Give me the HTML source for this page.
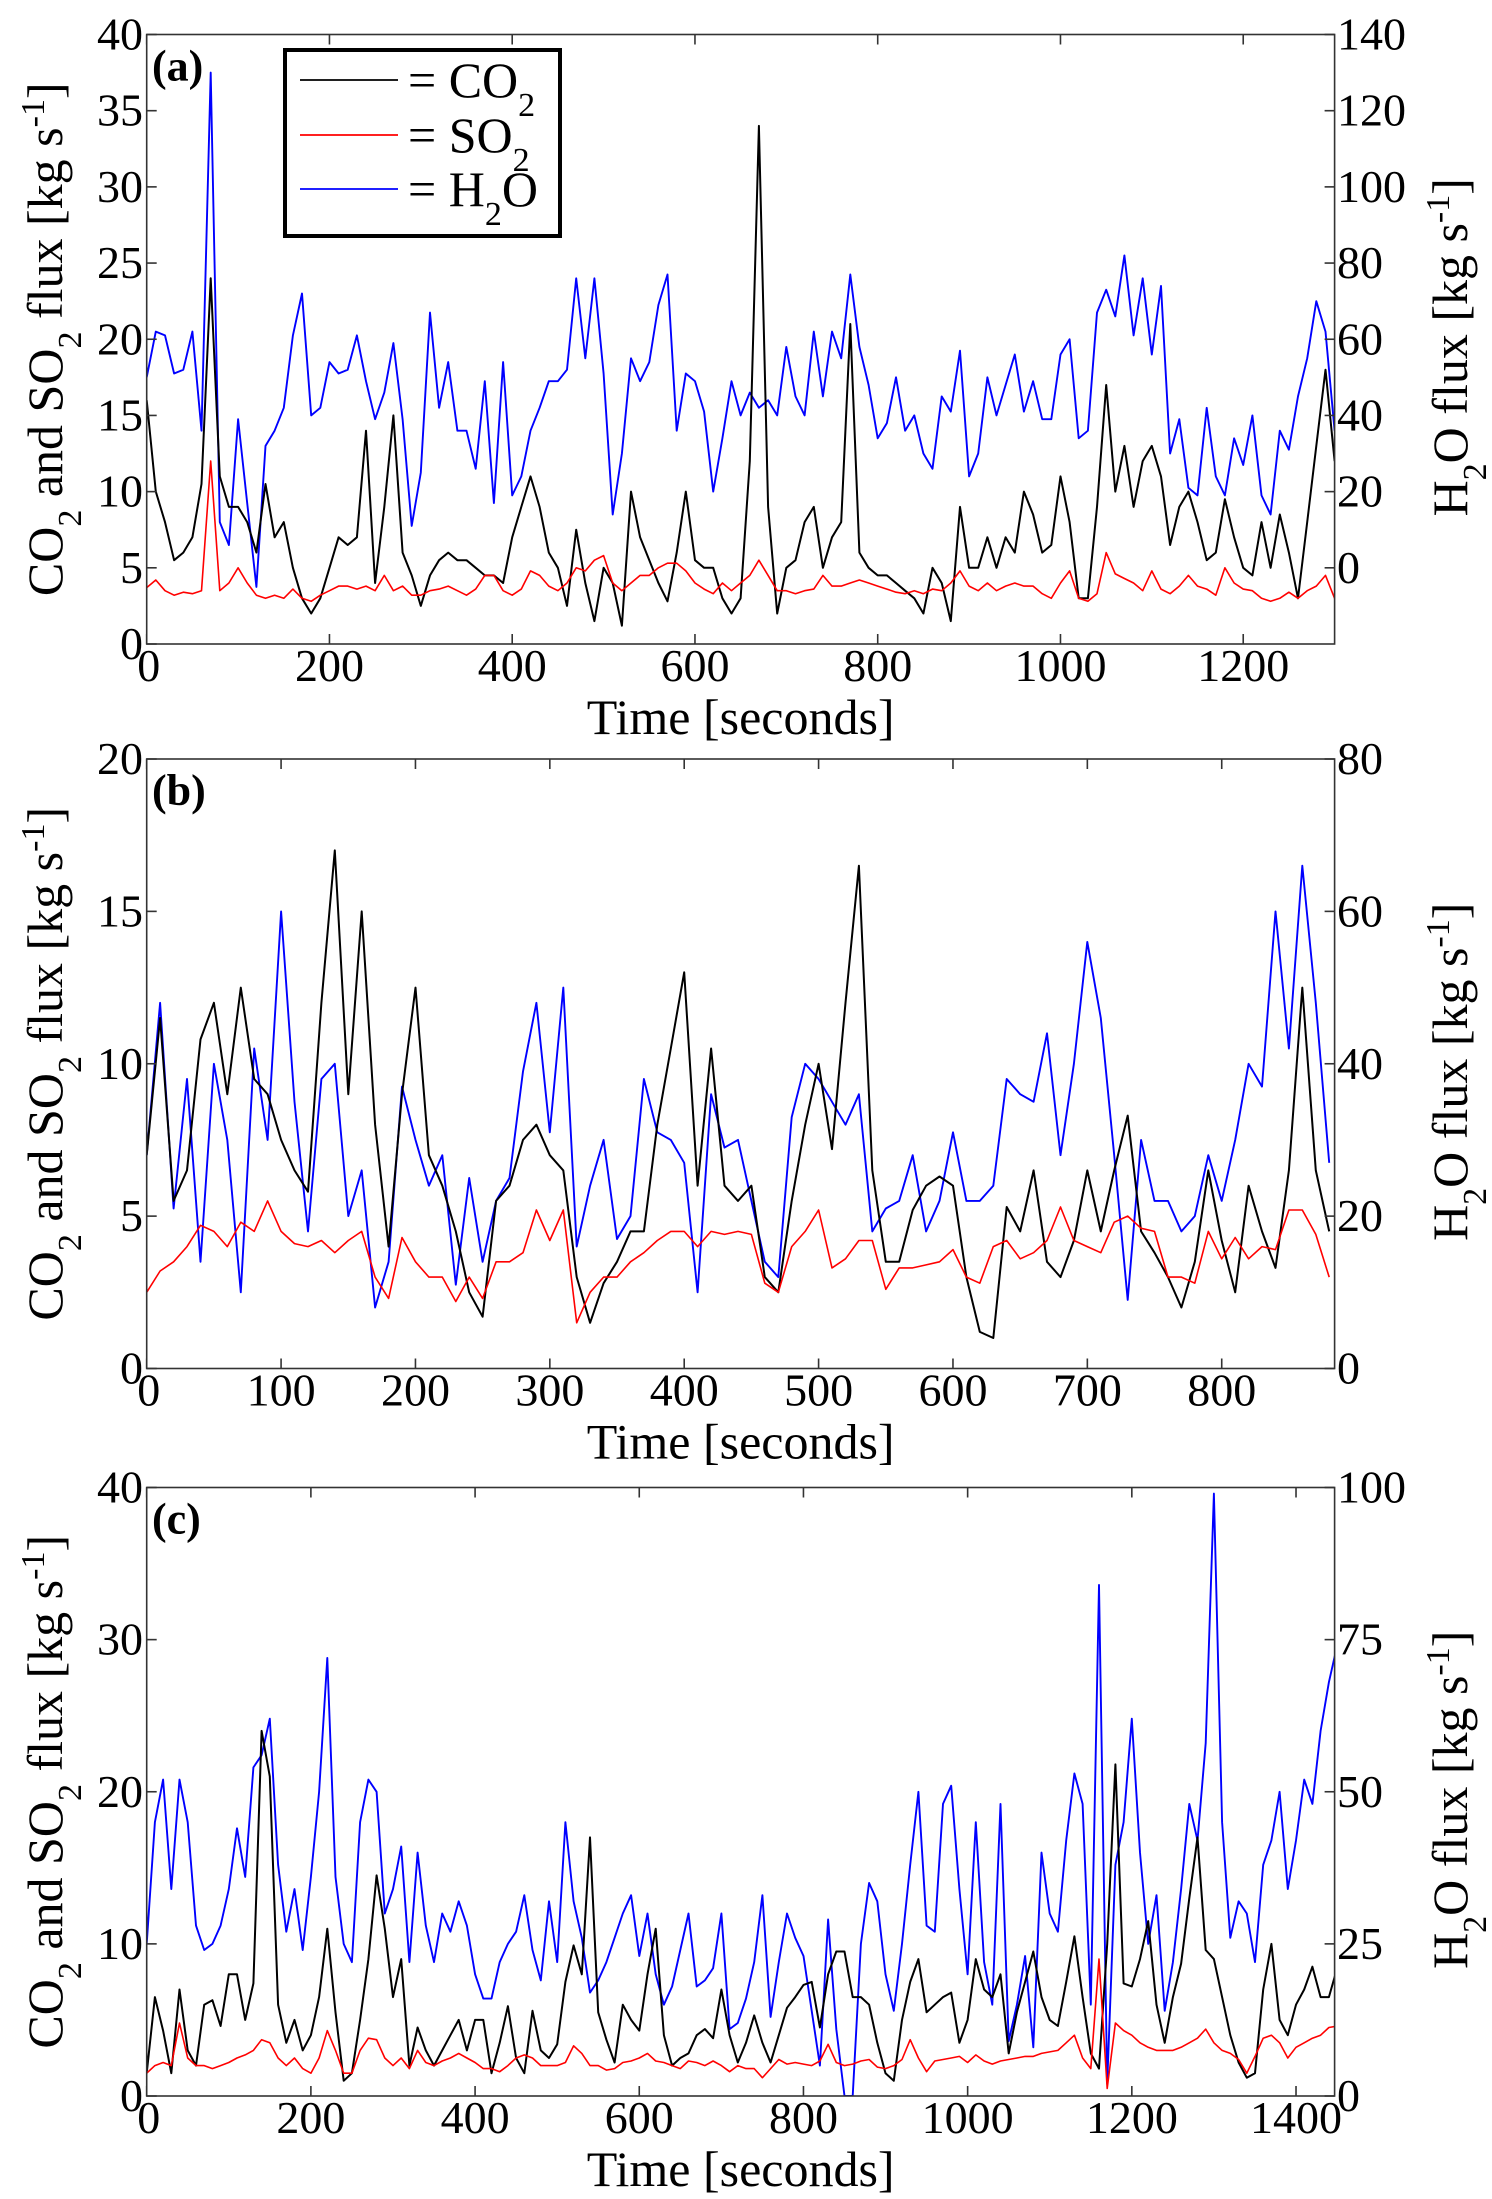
<!DOCTYPE html>
<html><head><meta charset="utf-8"><title>CO2, SO2 and H2O flux time series</title>
<style>
html,body{margin:0;padding:0;background:#fff;}
svg{display:block;}
svg text{font-family:"Liberation Serif","Noto Serif CJK SC","DejaVu Serif",serif;}
</style></head>
<body>
<svg id="chart" width="1492" height="2199" viewBox="0 0 1492 2199" xmlns="http://www.w3.org/2000/svg">
</svg>
<script>
// ---- Panel (a) data (10 s steps) ----
const panelAStep = 10;
const panelACO2 = [16,10,8,5.5,6,7,10.5,24,11,9,
9,8,6,10.5,7,8,5,3,2,3,
5,7,6.5,7,14,4,9,15,6,4.5,
2.5,4.5,5.5,6,5.5,5.5,5,4.5,4.5,4,
7,9,11,9,6,5,2.5,7.5,4,1.5,
5,4,1.2,10,7,5.5,4,2.8,6,10,
5.5,5,5,3,2,3,12,34,9,2,
5,5.5,8,9,5,7,8,21,6,5,
4.5,4.5,4,3.5,3,2,5,4,1.5,9,
5,5,7,5,7,6,10,8.5,6,6.5,
11,8,3,3,9,17,10,13,9,12,
13,11,6.5,9,10,8,5.5,6,9.5,7,
5,4.5,8,5,8.5,6,3,8,13,18,12];
const panelASO2 = [3.7,4.2,3.5,3.2,3.4,3.3,3.5,12,3.5,4,
5,4,3.2,3,3.2,3,3.6,3,2.8,3.2,
3.5,3.8,3.8,3.6,3.8,3.5,4.5,3.5,3.8,3.2,
3.2,3.5,3.6,3.8,3.5,3.2,3.6,4.5,4.5,3.5,
3.2,3.6,4.8,4.5,3.8,3.5,4,5,4.8,5.5,
5.8,4,3.5,4,4.5,4.5,5,5.3,5.3,4.8,
4,3.6,3.3,4,3.5,4,4.5,5.5,4.5,3.5,
3.5,3.3,3.5,3.6,4.5,3.8,3.8,4,4.2,4,
3.8,3.6,3.4,3.3,3.5,3.3,3.6,3.5,4,4.8,
3.8,3.5,4,3.5,3.8,4,3.8,3.8,3.3,3,
4,4.8,3,2.8,3.3,6,4.6,4.3,4,3.5,
4.8,3.6,3.3,3.8,4.5,3.8,3.6,3.2,5,4,
3.6,3.5,3,2.8,3,3.4,3,3.5,3.8,4.5,3];
const panelAH2O = [50,62,61,51,52,62,36,130,12,6,
39,17,-5,32,36,42,61,72,40,42,
54,51,52,61,49,39,46,59,39,11,
25,67,42,54,36,36,26,49,17,54,
19,24,36,42,49,49,52,76,55,76,
51,14,30,55,49,54,69,77,36,51,
49,41,20,34,49,40,46,42,44,40,
58,45,40,62,45,62,55,77,58,48,
34,38,50,36,40,30,26,45,41,57,
24,30,50,40,48,56,41,49,39,39,
56,60,34,36,67,73,66,82,61,76,
56,74,30,39,21,19,42,24,19,34,
27,40,19,14,36,31,45,55,70,62,36];
const panelAXTicks = [0,200,400,600,800,1000,1200];
const panelALeftTicks = [0,5,10,15,20,25,30,35,40];
const panelARightTicks = [0,20,40,60,80,100,120,140];

// ---- Panel (b) data ----
const panelBStep = 10;
const panelBCO2 = [7,11.5,5.5,6.5,10.8,12,9,12.5,9.5,9,
7.5,6.5,5.8,12,17,9,15,8,4,9,
12.5,7,6,4.5,2.5,1.7,5.5,6,7.5,8,
7,6.5,3,1.5,2.8,3.5,4.5,4.5,8,10.5,
13,6,10.5,6,5.5,6,3,2.5,5.5,8,
10,7.2,12,16.5,6.5,3.5,3.5,5.2,6,6.3,
6,3,1.2,1,5.3,4.5,6.5,3.5,3,4.2,
6.5,4.5,6.5,8.3,4.5,3.8,3,2,3.5,6.5,
4.2,2.5,6,4.5,3.3,6.5,12.5,6.5,4.5];
const panelBSO2 = [2.5,3.2,3.5,4,4.7,4.5,4,4.8,4.5,5.5,
4.5,4.1,4,4.2,3.8,4.2,4.5,3,2.3,4.3,
3.5,3,3,2.2,3,2.3,3.5,3.5,3.8,5.2,
4.2,5.2,1.5,2.5,3,3,3.5,3.8,4.2,4.5,
4.5,4,4.5,4.4,4.5,4.4,2.8,2.5,4,4.5,
5.2,3.3,3.6,4.2,4.2,2.6,3.3,3.3,3.4,3.5,
3.9,3,2.8,4,4.2,3.6,3.8,4.2,5.3,4.2,
4,3.8,4.8,5,4.6,4.5,3,3,2.8,4.5,
3.6,4.3,3.6,4,3.9,5.2,5.2,4.4,3];
const panelBH2O = [28,48,21,38,14,40,30,10,42,30,
60,35,18,38,40,20,26,8,14,37,
30,24,28,11,25,14,22,25,39,48,
31,50,16,24,30,17,20,38,31,30,
27,10,36,29,30,22,14,12,33,40,
38,35,32,36,18,21,22,28,18,22,
31,22,22,24,38,36,35,44,28,40,
56,46,28,9,30,22,22,18,20,28,
22,30,40,37,60,42,66,48,27];
const panelBXTicks = [0,100,200,300,400,500,600,700,800];
const panelBLeftTicks = [0,5,10,15,20];
const panelBRightTicks = [0,20,40,60,80];

// ---- Panel (c) data ----
const panelCStep = 10;
const panelCCO2 = [1.5,6.5,4.3,1.5,7,3,2,6,6.3,4.6,
8,8,5,7.4,24,21,6,3.5,5,3,
4,6.5,11,5.5,1,1.5,5,9,14.5,11,
6.5,9,2,4.5,3,2,3,4,5,3,
5,5,1.5,3.5,5.9,2.5,1.5,5.6,3,2.5,
3.4,7.5,9.9,8,17,5.5,3.7,2.2,6,5,
4.3,8,11,4,2,2.5,2.8,4,4.4,3.8,
7,4,2.2,3.5,5.3,3.5,2.2,4,5.8,6.5,
7.3,7.5,4.5,8,9.5,9.5,6.5,6.5,6,3.5,
1.5,1,5,7.5,9,5.5,6,6.5,6.8,3.5,
5,9,7,6.5,8,2.8,5.5,7.5,9.5,6.5,
5,4.6,7.5,10.5,6.5,2.8,1.8,10,21.8,7.4,
7.2,9,11.5,6,3.5,6.5,8.7,13,17,9.6,
9,6.5,4,2.2,1.2,1.5,7,10,5,4,
6,7,8.5,6.5,6.5,8.4];
const panelCSO2 = [1.5,2,2.2,2,4.8,2.5,2,2,1.8,2,
2.2,2.5,2.7,3,3.7,3.5,2.5,2,2.5,1.8,
1.5,2.5,4.3,3,1.5,1.5,3,3.8,3.7,2.5,
2,2.5,1.8,3,2.2,2,2.3,2.5,2.8,2.5,
2.2,1.8,1.8,1.6,2,2.5,2.7,2.5,2,2,
2,2.2,3.3,2.8,2,2,1.7,1.8,2.2,2.3,
2.5,2.8,2.3,2.2,2,1.8,2.3,2.2,2,2.3,
2,1.6,2,1.8,1.8,1.2,1.8,2.4,2.1,2.2,
2.1,2,2.3,3.4,2.2,2,2.1,2.3,2.4,1.9,
1.8,2,2.4,3.7,2.5,1.6,2.3,2.4,2.5,2.6,
2.2,2.7,2.3,2.1,2.3,2.4,2.5,2.6,2.6,2.8,
2.9,3,3.5,4,2.5,1.8,9,0.5,4.8,4.3,
4,3.5,3.2,3,3,3,3.2,3.5,3.8,4.4,
3.5,3,2.8,2.4,1.5,2.6,3.8,4,3.5,2.5,
3.2,3.5,3.8,4,4.5,4.6];
const panelCH2O = [25,45,52,34,52,45,28,24,25,28,
34,44,36,54,56,62,38,27,34,24,
36,50,72,36,25,22,45,52,50,30,
34,41,22,40,28,22,30,27,32,28,
20,16,16,22,25,27,33,24,19,32,
22,45,32,26,17,19,22,26,30,33,
23,30,20,15,18,24,30,18,19,21,
30,11,12,16,22,33,13,22,30,26,
23,14,5,29,11,0,0,25,35,32,
20,14,25,38,50,28,27,48,51,34,
20,45,22,15,48,9,15,23,8,40,
30,27,42,53,48,15,84,2,38,45,
62,40,25,33,14,22,34,48,42,58,
99,45,26,32,30,22,38,42,50,34,
42,52,48,60,68,74];
const panelCXTicks = [0,200,400,600,800,1000,1200,1400];
const panelCLeftTicks = [0,10,20,30,40];
const panelCRightTicks = [0,25,50,75,100];

const NS = 'http://www.w3.org/2000/svg';
const svg = document.getElementById('chart');
const PL = 146.7, PR = 1334.6;

function mk(tag, attrs, parent) {
  const e = document.createElementNS(NS, tag);
  for (const k in attrs) e.setAttribute(k, attrs[k]);
  (parent || svg).appendChild(e);
  return e;
}
function addRich(textEl, parts) {
  parts.forEach(p => {
    const t = document.createElementNS(NS, 'tspan');
    if (p.shift) { t.setAttribute('baseline-shift', p.shift); t.setAttribute('font-size', '68%'); }
    t.textContent = p.t;
    textEl.appendChild(t);
  });
}

function drawPanel(id, label, top, bottom, xmax, step, co2, so2, h2o, xTicks, lTicks, lMax, rTicks, rMin, rMax) {
  const g = mk('g', {});
  
  
  const xs = v => PL + (v / xmax) * (PR - PL);
  const yl = v => bottom - (v / lMax) * (bottom - top);
  const yr = v => bottom - ((v - rMin) / (rMax - rMin)) * (bottom - top);

  const cp = mk('clipPath', { id: 'clip-' + id }, g);
  mk('rect', { x: PL, y: top, width: PR - PL, height: bottom - top }, cp);

  function series(vals, yf, color, name, w) {
    let d = '';
    vals.forEach((v, i) => { d += (i ? 'L' : 'M') + xs(i * step).toFixed(1) + ' ' + yf(v).toFixed(1); });
    const p = mk('path', { d: d, fill: 'none', stroke: color, 'stroke-width': w, 'stroke-linejoin': 'round', 'clip-path': 'url(#clip-' + id + ')' }, g);
    
    
  }
  series(h2o, yr, '#0000ff', 'h2o-line-' + id, 1.9);
  series(co2, yl, '#000000', 'co2-line-' + id, 2);
  series(so2, yl, '#ff0000', 'so2-line-' + id, 1.6);

  const frame = mk('rect', { x: PL, y: top, width: PR - PL, height: bottom - top, fill: 'none', stroke: '#333', 'stroke-width': 1.6 }, g);
  
  

  xTicks.forEach(v => {
    const x = xs(v);
    mk('line', { x1: x, y1: bottom, x2: x, y2: bottom - 10, stroke: '#333', 'stroke-width': 1.6 }, g);
    mk('line', { x1: x, y1: top, x2: x, y2: top + 10, stroke: '#333', 'stroke-width': 1.6 }, g);
    const t = mk('text', { x: v === 0 ? x + 2 : x, y: bottom + 37, 'font-size': 46, 'text-anchor': 'middle' }, g);
    
    
    t.textContent = v;
  });
  lTicks.forEach(v => {
    const y = yl(v);
    mk('line', { x1: PL, y1: y, x2: PL + 10, y2: y, stroke: '#333', 'stroke-width': 1.6 }, g);
    const t = mk('text', { x: 143, y: y + 15, 'font-size': 46, 'text-anchor': 'end' }, g);
    
    
    t.textContent = v;
  });
  rTicks.forEach(v => {
    const y = yr(v);
    mk('line', { x1: PR, y1: y, x2: PR - 10, y2: y, stroke: '#333', 'stroke-width': 1.6 }, g);
    const t = mk('text', { x: 1337, y: y + 15, 'font-size': 46, 'text-anchor': 'start' }, g);
    
    
    t.textContent = v;
  });

  const xt = mk('text', { x: (PL + PR) / 2, y: bottom + 90, 'font-size': 50, 'text-anchor': 'middle' }, g);
  
  
  xt.textContent = 'Time [seconds]';

  const cy = (top + bottom) / 2;
  const lt = mk('text', { x: 0, y: 0, 'font-size': 50, 'text-anchor': 'middle', transform: 'translate(62,' + cy + ') rotate(-90)' }, g);
  
  
  addRich(lt, [{t:'CO'},{t:'2',shift:'sub'},{t:' and SO'},{t:'2',shift:'sub'},{t:' flux [kg s'},{t:'-1',shift:'super'},{t:']'}]);

  const rt = mk('text', { x: 0, y: 0, 'font-size': 50, 'text-anchor': 'middle', transform: 'translate(1467,' + (cy + 8) + ') rotate(-90)' }, g);
  
  
  addRich(rt, [{t:'H'},{t:'2',shift:'sub'},{t:'O flux [kg s'},{t:'-1',shift:'super'},{t:']'}]);

  const pl = mk('text', { x: 152, y: top + 46, 'font-size': 44, 'font-weight': 'bold' }, g);
  
  
  pl.textContent = label;
}

drawPanel('a', '(a)', 34.5, 644, 1300, panelAStep, panelACO2, panelASO2, panelAH2O, panelAXTicks, panelALeftTicks, 40, panelARightTicks, -20, 140);
drawPanel('b', '(b)', 759, 1368.5, 884, panelBStep, panelBCO2, panelBSO2, panelBH2O, panelBXTicks, panelBLeftTicks, 20, panelBRightTicks, 0, 80);
drawPanel('c', '(c)', 1487.5, 2096, 1447, panelCStep, panelCCO2, panelCSO2, panelCH2O, panelCXTicks, panelCLeftTicks, 40, panelCRightTicks, 0, 100);

// legend
const lg = mk('g', {});


mk('rect', { x: 285, y: 50, width: 275, height: 186, fill: '#fff', stroke: '#000', 'stroke-width': 4 }, lg);
const legendItems = [['#000000', 'CO', 'legend-entry-co2', 80], ['#ff0000', 'SO', 'legend-entry-so2', 135], ['#0000ff', 'H', 'legend-entry-h2o', 189]];
legendItems.forEach(it => {
  const eg = mk('g', {}, lg);
  
  
  mk('line', { x1: 300, y1: it[3], x2: 398, y2: it[3], stroke: it[0], 'stroke-width': 1.8 }, eg);
  const t = mk('text', { x: 408, y: it[3] + 17, 'font-size': 50 }, eg);
  if (it[1] === 'H') addRich(t, [{t:'= H'},{t:'2',shift:'sub'},{t:'O'}]);
  else addRich(t, [{t:'= ' + it[1]},{t:'2',shift:'sub'}]);
});
</script>
</body></html>
